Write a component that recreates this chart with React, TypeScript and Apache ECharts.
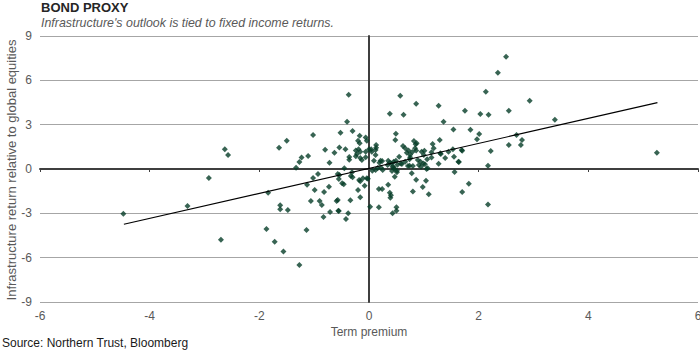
import React, { useEffect, useRef } from "react";
import * as echarts from "echarts";

const titleText = "BOND PROXY";
const subtitleText = "Infrastructure's outlook is tied to fixed income returns.";
const sourceText = "Source: Northern Trust, Bloomberg";
const xAxisName = "Term premium";
const yAxisName = "Infrastructure return relative to global equities";

const xRange = [-6, 6];
const xStep = 2;
const yRange = [-9, 9];
const yStep = 3;

// [term premium, infrastructure return relative to global equities]
const points: [number, number][] = [
  [-4.48, -3.02], [-3.31, -2.5], [-2.92, -0.61], [-2.7, -4.78], [-2.63, 1.33], [-2.57, 0.95],
  [-1.87, -4.06], [-1.84, -1.6], [-1.72, -4.92], [-1.64, 1.44], [-1.62, -2.46], [-1.62, -2.73],
  [-1.56, -5.59], [-1.5, 1.92], [-1.48, -2.77], [-1.33, 0.09], [-1.27, 0.47], [-1.27, -6.5],
  [-1.23, 0.77], [-1.14, -4.13], [-1.13, -1.06], [-1.11, 0.88], [-1.06, -2.17], [-1.02, 2.3],
  [-1.02, -0.61], [-0.99, -1.42], [-0.93, -0.34], [-0.9, -2.17], [-0.86, -2.44], [-0.83, -3.25],
  [-0.82, -1.56], [-0.8, 1.31], [-0.73, -1.2], [-0.72, 0.43], [-0.71, -2.91], [-0.63, 1.1],
  [-0.59, -2.17], [-0.57, -0.34], [-0.57, -2.1], [-0.56, -2.82], [-0.55, -0.68], [-0.55, -2.84],
  [-0.54, 1.45], [-0.54, -0.41], [-0.52, 2.45], [-0.49, -0.97], [-0.46, -1.04], [-0.45, 0.05],
  [-0.43, 1.33], [-0.42, -3.38], [-0.4, 3.2], [-0.38, -3.0], [-0.37, 5.03], [-0.36, 0.81],
  [-0.36, 0.63], [-0.34, -2.12], [-0.33, -0.47], [-0.31, -0.22], [-0.3, -0.56], [-0.3, 2.57],
  [-0.24, 1.26], [-0.24, 0.86], [-0.22, 1.01], [-0.2, 1.92], [-0.2, -1.42], [-0.19, 1.33],
  [-0.18, -0.74], [-0.17, 2.25], [-0.17, 1.74], [-0.16, 1.17], [-0.16, 0.74], [-0.16, -0.83],
  [-0.16, -1.91], [-0.13, 0.61], [-0.11, -0.63], [-0.08, -1.13], [-0.06, 2.14], [-0.04, 1.92],
  [-0.06, 1.17], [-0.06, 0.79], [-0.04, -0.63], [-0.02, -0.66], [0.0, 1.33], [0.04, 1.33],
  [0.05, 1.17], [0.02, -2.55], [0.06, -0.11], [0.12, -0.07], [0.13, 1.62], [0.13, 1.44],
  [0.12, 1.29], [0.12, 0.95], [0.09, 0.56], [0.18, -1.35], [0.24, -1.35], [0.18, -2.59],
  [0.21, 0.56], [0.22, 0.09], [0.35, 0.56], [0.34, 0.27], [0.35, -1.06], [0.38, -1.6],
  [0.4, -1.78], [0.39, -1.95], [0.38, 3.74], [0.43, 0.16], [0.45, 0.49], [0.45, 0.11],
  [0.46, 0.0], [0.49, 0.56], [0.49, 2.39], [0.48, 1.96], [0.5, -2.59], [0.5, -2.82],
  [0.43, -3.0], [0.51, -0.11], [0.52, 0.29], [0.55, 0.83], [0.57, 4.96], [0.6, 0.34],
  [0.62, 1.56], [0.63, 3.67], [0.66, 1.4], [0.66, 0.49], [0.69, 1.1], [0.72, 1.26],
  [0.74, 0.66], [0.75, 0.79], [0.74, 0.22], [0.79, 1.15], [0.78, -0.29], [0.8, 0.2],
  [0.8, -1.53], [0.84, 1.4], [0.85, 1.67], [0.86, 1.26], [0.86, 4.42], [0.86, -0.72],
  [0.82, 1.89], [0.87, 1.74], [0.91, 0.27], [0.94, 0.49], [0.96, 1.17], [0.98, -1.22],
  [1.0, 0.95], [1.02, 0.32], [1.01, 1.24], [1.04, -0.79], [1.05, 0.0], [1.06, 0.66],
  [1.07, 0.05], [1.09, -1.71], [1.14, 0.77], [1.14, 1.13], [1.16, 1.69], [1.18, 1.4],
  [1.27, 4.28], [1.27, 0.36], [1.29, 1.96], [1.3, 1.06], [1.36, 3.2], [1.39, 0.74],
  [1.45, 1.17], [1.54, 2.68], [1.53, 1.33], [1.55, 0.83], [1.56, -0.2], [1.64, 0.47],
  [1.69, 1.29], [1.7, -1.56], [1.75, 3.94], [1.82, -1.0], [1.85, 2.66], [1.97, 2.01],
  [2.01, 2.37], [2.03, 3.72], [2.13, 5.23], [2.17, 0.22], [2.17, -2.41], [2.18, 3.67],
  [2.22, 1.22], [2.35, 6.52], [2.5, 7.6], [2.55, 3.94], [2.55, 1.62], [2.69, 2.3],
  [2.77, 1.62], [2.79, 1.96], [2.93, 4.62], [3.39, 3.34], [5.25, 1.1],
  [0.47, -0.52], [0.42, -0.14], [0.51, -0.22], [0.19, 0.43], [0.24, 0.54], [0.38, 0.43],
  [0.58, 0.38], [0.71, 0.2], [0.89, 0.61], [0.95, 0.16], [0.16, 0.07], [0.25, -0.07],
  [0.41, 0.38], [0.99, 0.38], [1.31, 1.01], [1.63, 0.49], [1.7, 1.24], [0.75, 0.97],
];

// fitted trend line end points
const trendX = [-4.47, 5.26];
const trendY = [-3.74, 4.49];

const narrow = "'Liberation Sans Narrow', 'Arial Narrow', 'Liberation Sans', sans-serif";
const sans = "'Liberation Sans', Arial, sans-serif";

export default function App() {
  const ref = useRef<HTMLDivElement>(null);
  useEffect(() => {
    if (!ref.current) return;
    const chart = echarts.init(ref.current, null, { renderer: "svg" });
    const axisDark = "#3f3f3f";
    chart.setOption({
      animation: false,
      backgroundColor: "#ffffff",
      title: {
        text: titleText,
        subtext: subtitleText,
        left: 41,
        top: 1,
        itemGap: 3,
        padding: 0,
        textStyle: { fontSize: 13, fontWeight: "bold", color: "#262626", fontFamily: sans },
        subtextStyle: { fontSize: 12.4, fontStyle: "italic", color: "#595959", fontFamily: sans },
      },
      graphic: [
        {
          type: "text",
          left: 2,
          top: 337,
          style: { text: sourceText, fontSize: 12, fill: "#1a1a1a", fontFamily: narrow },
        },
        {
          type: "text",
          x: 11,
          y: 170,
          rotation: Math.PI / 2,
          style: {
            text: yAxisName,
            fontSize: 13,
            fill: "#595959",
            fontFamily: sans,
            align: "center",
            verticalAlign: "middle",
          },
        },
      ],
      grid: { left: 40, right: 2, top: 36, bottom: 51, outerBoundsMode: "none", containLabel: false },
      xAxis: [
        {
          type: "value",
          min: xRange[0],
          max: xRange[1],
          interval: xStep,
          axisLine: { show: false },
          axisTick: { show: false },
          splitLine: { show: false },
          axisLabel: { color: "#595959", fontSize: 12, fontFamily: narrow, margin: 8 },
          name: xAxisName,
          nameLocation: "middle",
          nameGap: 24,
          nameMoveOverlap: false,
          nameTextStyle: { color: "#595959", fontSize: 12, fontFamily: narrow },
        },
        {
          type: "value",
          min: xRange[0],
          max: xRange[1],
          interval: xStep,
          position: "bottom",
          axisLine: { show: true, onZero: true, lineStyle: { color: axisDark, width: 2 } },
          axisTick: { show: true, length: 3, lineStyle: { color: axisDark, width: 1 } },
          axisLabel: { show: false },
          splitLine: { show: false },
        },
      ],
      yAxis: [
        {
          type: "value",
          min: yRange[0],
          max: yRange[1],
          interval: yStep,
          axisLine: { show: false },
          axisTick: { show: false },
          splitLine: { show: true, lineStyle: { color: "#a6a6a6", width: 1 } },
          axisLabel: { color: "#595959", fontSize: 12, fontFamily: narrow, margin: 8 },
        },
        {
          type: "value",
          min: yRange[0],
          max: yRange[1],
          interval: yStep,
          position: "left",
          axisLine: { show: true, onZero: true, lineStyle: { color: axisDark, width: 2 } },
          axisTick: { show: false },
          axisLabel: { show: false },
          splitLine: { show: false },
        },
      ],
      series: [
        {
          type: "scatter",
          xAxisIndex: 0,
          yAxisIndex: 0,
          symbol: "diamond",
          symbolSize: 6,
          itemStyle: { color: "#063d28" },
          data: points,
          z: 3,
        },
        {
          type: "line",
          xAxisIndex: 0,
          yAxisIndex: 0,
          data: trendX.map((x, i) => [x, trendY[i]]),
          symbol: "none",
          lineStyle: { color: "#000000", width: 1.2 },
          z: 4,
        },
      ],
    });
    return () => chart.dispose();
  }, []);
  return (
    <div
      ref={ref}
      style={{ position: "fixed", left: 0, top: 0, width: 700, height: 353, background: "#fff" }}
    />
  );
}
